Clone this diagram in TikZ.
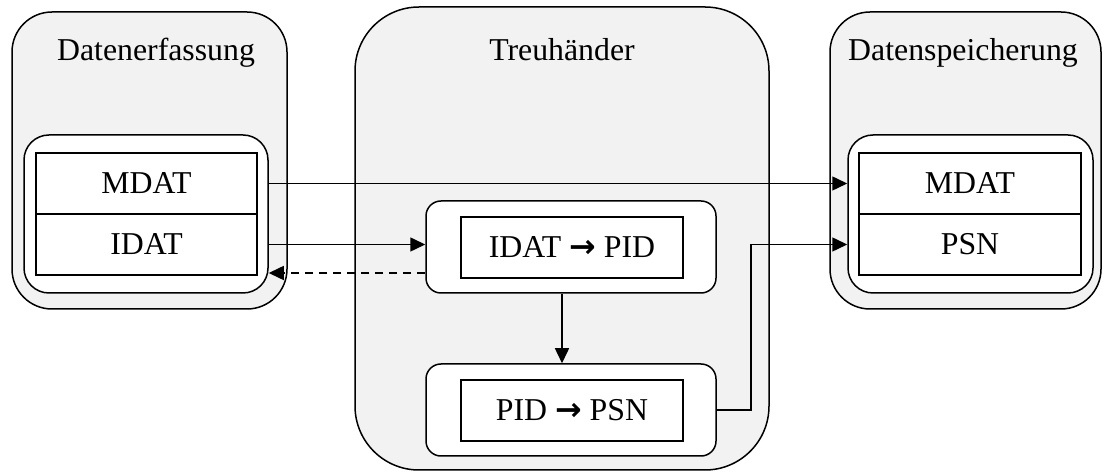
\documentclass[tikz,border=0pt]{standalone}
\usepackage{fontspec}
\setmainfont{Liberation Serif}
\newfontfamily\arrowfont{DejaVu Sans}
\usetikzlibrary{arrows.meta}
\definecolor{bggray}{HTML}{F2F2F2}
\newcommand{\thru}{\ {\arrowfont\bfseries →}\ }
\begin{document}
\begin{tikzpicture}[x=0.5pt,y=-0.5pt,
		font=\fontsize{15.9}{19}\selectfont,
		area/.style={draw,fill=bggray,line width=0.75pt,inner sep=0pt},
		holder/.style={draw,fill=white,line width=0.75pt,inner sep=0pt},
		row/.style={draw,fill=white,line width=1pt,inner sep=0pt,minimum width=110.5pt,minimum height=30.5pt},
		flow/.style={line width=0.75pt,-{Triangle[length=7.5pt,width=7pt]}}]
			\useasboundingbox (0,0) rectangle (1103,475);
			% containers
			\node[area,rounded corners=20pt,minimum width=137.5pt,minimum height=148.5pt] (erf) at (149.5,160.5) {};
			\node[area,rounded corners=32pt,minimum width=207pt,minimum height=231.5pt] (th) at (562,238.5) {};
			\node[area,rounded corners=20pt,minimum width=135.5pt,minimum height=148.5pt] (spe) at (965.5,160.5) {};
			% titles
			\node[anchor=base] (erft) at (156,61) {Datenerfassung};
			\node[anchor=base] (tht) at (562,61) {Treuhänder};
			\node[anchor=base] (spet) at (963,61) {Datenspeicherung};
			% data records
			\node[holder,rounded corners=12.5pt,minimum width=122pt,minimum height=79pt] (lin) at (146,214) {};
			\node[row] (lm) at (146.5,183.5) {MDAT};
			\node[row] (li) at (146.5,244.5) {IDAT};
			\node[holder,rounded corners=12.5pt,minimum width=122.5pt,minimum height=79pt] (rin) at (970.5,214) {};
			\node[row,minimum width=111pt] (rm) at (970,183.5) {MDAT};
			\node[row,minimum width=111pt] (rp) at (970,244.5) {PSN};
			% trustee steps
			\node[holder,rounded corners=7.5pt,minimum width=145pt,minimum height=46pt] (b1) at (571,247) {};
			\node[row,minimum width=111pt] (s1) at (572,247.5) {IDAT\thru PID};
			\node[holder,rounded corners=7.5pt,minimum width=145pt,minimum height=46pt] (b2) at (571,410) {};
			\node[row,minimum width=111pt] (s2) at (572,410.5) {PID\thru PSN};
			% arrows
			\draw[flow] (lm -| lin.east) -- (lm -| rin.west);
			\draw[flow] (li -| lin.east) -- (li -| b1.west);
			\draw[flow,dash pattern=on 4pt off 3pt] ([yshift=-13pt]b1.west) -- ([yshift=-13pt]b1.west -| lin.east);
			\draw[flow] ([xshift=-4.5pt]b1.south) -- ([xshift=-4.5pt]b2.north);
			\draw[flow] (b2.east) -- ++(34,0) |- (rp -| rin.west);
\end{tikzpicture}
\end{document}
